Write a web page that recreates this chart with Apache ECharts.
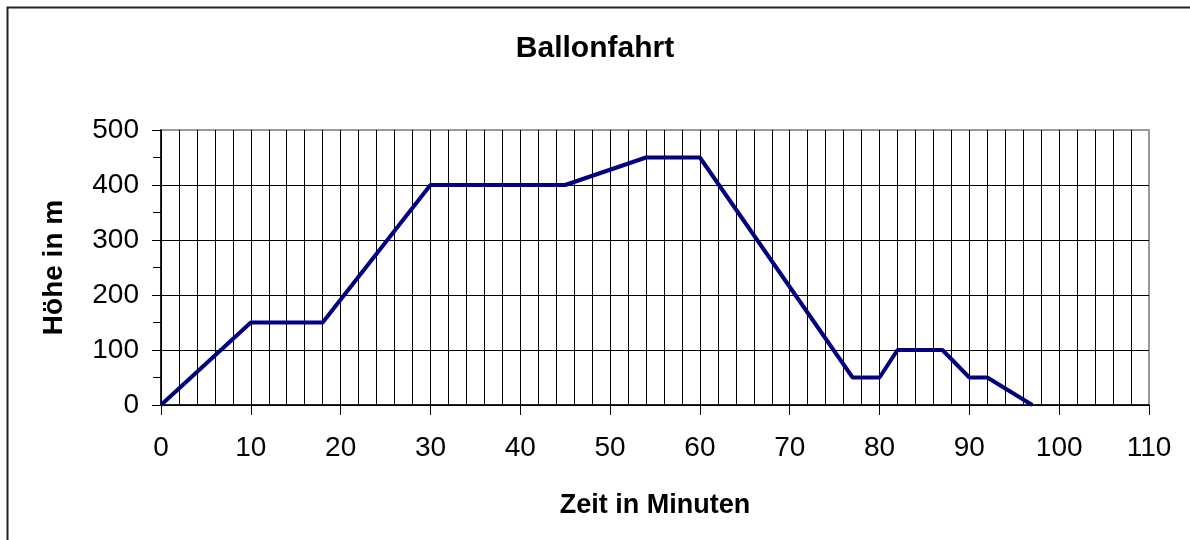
<!DOCTYPE html>
<html>
<head>
<meta charset="utf-8">
<script src="https://cdn.jsdelivr.net/npm/echarts@6/dist/echarts.min.js"></script>
<style>
html, body { margin: 0; padding: 0; background: #fff; }
#mybox { width: 1190px; height: 540px; }
</style>
</head>
<body>
<div id="mybox"></div>
<script>
// Daten der Ballonfahrt
var minuten = [0, 10, 18, 30, 45, 54, 60, 77, 80, 82, 87, 90, 92, 97];
var hoehe = [0, 150, 150, 400, 400, 450, 450, 50, 50, 100, 100, 50, 50, 0];
var xTicks = [0, 10, 20, 30, 40, 50, 60, 70, 80, 90, 100, 110];
var yTicks = [0, 100, 200, 300, 400, 500];

var punkte = minuten.map(function (m, i) { return [m, hoehe[i]]; });

var fontName = '"Liberation Sans", Arial, sans-serif';

// letzte Gitterlinie grau (Rahmen der Zeichenfläche)
var xGridColors = xTicks.map(function (v, i) { return i === xTicks.length - 1 ? '#999' : '#000'; });
var yGridColors = yTicks.map(function (v, i) { return i === yTicks.length - 1 ? '#999' : '#000'; });

var mycharts = echarts.init(document.getElementById('mybox'));

var optionObj = {
    animation: false,
    backgroundColor: '#fff',
    title: {
        text: 'Ballonfahrt',
        left: 'center',
        top: 29,
        textStyle: { fontFamily: fontName, fontSize: 30, fontWeight: 'bold', color: '#000' }
    },
    graphic: [{
        type: 'rect',
        left: 5, top: 5,
        shape: { width: 1200, height: 560 },
        style: { fill: 'none', stroke: '#222', lineWidth: 2 },
        silent: true
    }],
    grid: {
        left: 161, top: 130, right: 41, bottom: 135,
        show: true,
        borderColor: '#999',
        borderWidth: 2,
        backgroundColor: 'transparent'
    },
    xAxis: {
        type: 'value',
        min: xTicks[0],
        max: xTicks[xTicks.length - 1],
        interval: 10,
        name: 'Zeit in Minuten',
        nameLocation: 'middle',
        nameGap: 87,
        nameTextStyle: { fontFamily: fontName, fontSize: 27, fontWeight: 'bold', color: '#000' },
        axisLine: { show: true, onZero: false, lineStyle: { color: '#000', width: 1.5 } },
        axisTick: { show: true, inside: false, length: 10, lineStyle: { color: '#000' } },
        axisLabel: { margin: 29, fontFamily: fontName, fontSize: 28, color: '#000' },
        splitLine: { show: true, lineStyle: { color: xGridColors, width: 1 } },
        minorTick: { show: false, splitNumber: 5 },
        minorSplitLine: { show: true, lineStyle: { color: '#000', width: 1 } }
    },
    yAxis: {
        type: 'value',
        min: yTicks[0],
        max: yTicks[yTicks.length - 1],
        interval: 100,
        name: 'Höhe in m',
        nameLocation: 'middle',
        nameGap: 93,
        nameRotate: 90,
        nameTextStyle: { fontFamily: fontName, fontSize: 28, fontWeight: 'bold', color: '#000' },
        axisLine: { show: true, onZero: false, lineStyle: { color: '#000', width: 1.5 } },
        axisTick: { show: true, inside: false, length: 9, lineStyle: { color: '#000' } },
        axisLabel: { margin: 22, fontFamily: fontName, fontSize: 28, color: '#000' },
        splitLine: { show: true, lineStyle: { color: yGridColors, width: 1 } },
        minorTick: { show: true, splitNumber: 2, length: 8, lineStyle: { color: '#000' } },
        minorSplitLine: { show: false }
    },
    series: [{
        name: 'Höhe',
        type: 'line',
        data: punkte,
        symbol: 'none',
        lineStyle: { color: '#000080', width: 4 },
        z: 5
    }]
};

mycharts.setOption(optionObj);
</script>
</body>
</html>
